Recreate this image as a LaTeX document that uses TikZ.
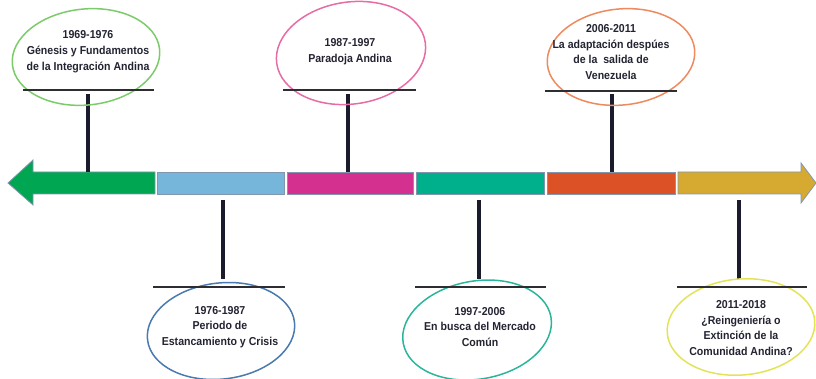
\documentclass[tikz,border=0pt]{standalone}
\usepackage{fontspec}
\setmainfont{Liberation Sans}[FakeStretch=0.92]
\usepackage{xcolor}
\usetikzlibrary{calc}
\definecolor{bgreen}{RGB}{0,166,81}
\definecolor{bblue}{RGB}{118,182,218}
\definecolor{bmagenta}{RGB}{212,48,143}
\definecolor{bteal}{RGB}{0,175,140}
\definecolor{borange}{RGB}{221,81,38}
\definecolor{bgold}{RGB}{214,170,48}
\definecolor{bandedge}{RGB}{130,150,175}
\definecolor{ogreen}{RGB}{124,203,106}
\definecolor{opink}{RGB}{231,108,166}
\definecolor{oorange}{RGB}{238,138,94}
\definecolor{oblue}{RGB}{74,122,175}
\definecolor{oteal}{RGB}{43,181,154}
\definecolor{oyellow}{RGB}{227,227,90}
\definecolor{stemcol}{RGB}{26,28,46}
\definecolor{basecol}{RGB}{45,45,50}
\definecolor{txtcol}{RGB}{35,35,50}
\tikzset{
  band/.style={draw=bandedge, line width=0.8pt, fill=#1},
  stem/.style={draw=stemcol, line width=3.8pt},
  baseline/.style={draw=basecol, line width=2pt},
  oval/.style={draw=#1, line width=1.5pt},
  era/.style={align=center, font=\bfseries\fontsize{11.5}{15.8}\selectfont, text=txtcol, inner sep=0pt}}

\begin{document}
\begin{tikzpicture}[x=1pt,y=-1pt]
\useasboundingbox (0,0) rectangle (816,379);
% arrow band
\draw[band=bgreen] (155,172) -- (33,172) -- (33,160) -- (8,183) -- (33,205) -- (33,194) -- (155,194) -- cycle;
\draw[band=bblue] (157,172) rectangle (284,194);
\draw[band=bmagenta] (287,172) rectangle (413,194);
\draw[band=bteal] (416,172) rectangle (544,194);
\draw[band=borange] (547,172) rectangle (675,194);
\draw[band=bgold] (678,172) -- (801,172) -- (801,163) -- (816,183) -- (801,203) -- (801,194) -- (678,194) -- cycle;
% periods above
\coordinate (S1a) at (88,94);   \coordinate (S1b) at (88,172);
\coordinate (L1a) at (23,90);   \coordinate (L1b) at (154,90);
\coordinate (S3a) at (348,94);  \coordinate (S3b) at (348,172);
\coordinate (L3a) at (283,90);  \coordinate (L3b) at (416,90);
\coordinate (S5a) at (612,94);  \coordinate (S5b) at (612,172);
\coordinate (L5a) at (545,91);  \coordinate (L5b) at (677,91);
% periods below
\coordinate (S2a) at (223,200); \coordinate (S2b) at (223,279);
\coordinate (L2a) at (153,287); \coordinate (L2b) at (285,287);
\coordinate (S4a) at (479,200); \coordinate (S4b) at (479,279);
\coordinate (L4a) at (415,287); \coordinate (L4b) at (546,287);
\coordinate (S6a) at (739,200); \coordinate (S6b) at (739,279);
\coordinate (L6a) at (677,287); \coordinate (L6b) at (807,287);
\draw[stem] (S1a) -- (S1b);
\draw[stem] (S3a) -- (S3b);
\draw[stem] (S5a) -- (S5b);
\draw[stem] (S2a) -- (S2b);
\draw[stem] (S4a) -- (S4b);
\draw[stem] (S6a) -- (S6b);
% ovals
\coordinate (E1) at (86,57);
\coordinate (E3) at (351,53);
\coordinate (E5) at (621,57);
\coordinate (E2) at (221,331);
\coordinate (E4) at (477,330);
\coordinate (E6) at (741,327);
\draw[oval=ogreen, rotate around={6:(E1)}] (E1) ellipse (74 and 48);
\draw[oval=opink, rotate around={8:(E3)}] (E3) ellipse (75 and 51);
\draw[oval=oorange, rotate around={6:(E5)}] (E5) ellipse (74 and 48);
\draw[oval=oblue, rotate around={7:(E2)}] (E2) ellipse (74 and 48);
\draw[oval=oteal, rotate around={10:(E4)}] (E4) ellipse (75 and 49);
\draw[oval=oyellow, rotate around={5:(E6)}] (E6) ellipse (74 and 48);
\draw[baseline] (L1a) -- (L1b);
\draw[baseline] (L3a) -- (L3b);
\draw[baseline] (L5a) -- (L5b);
\draw[baseline] (L2a) -- (L2b);
\draw[baseline] (L4a) -- (L4b);
\draw[baseline] (L6a) -- (L6b);
% texts
\node[era] (T1) at (88,52) {1969-1976\\G\'enesis y Fundamentos\\de la Integraci\'on Andina};
\node[era] (T3) at (350,52) {1987-1997\\Paradoja Andina};
\node[era] (T5) at (611,52) {2006-2011\\La adaptaci\'on desp\'ues\\de la \ salida de\\Venezuela};
\node[era] (T2) at (220,327) {1976-1987\\Periodo de\\Estancamiento y Crisis};
\node[era] (T4) at (480,327) {1997-2006\\En busca del Mercado\\Com\'un};
\node[era] (T6) at (741,328) {2011-2018\\¿Reingenier\'ia o\\Extinci\'on de la\\Comunidad Andina?};
\end{tikzpicture}
\end{document}
